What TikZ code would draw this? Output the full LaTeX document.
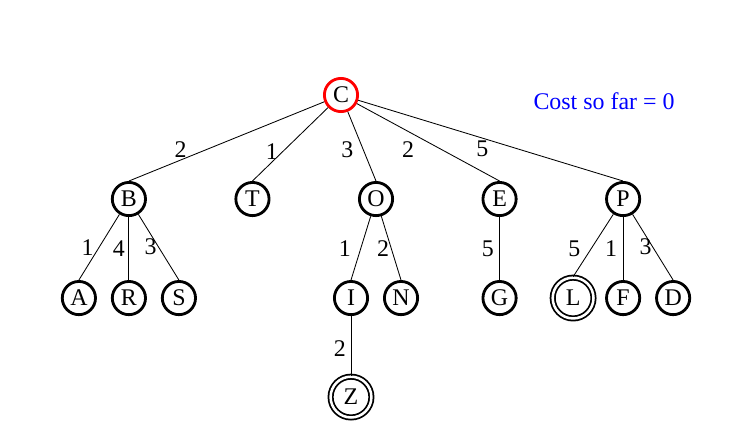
\documentclass[tikz,border=0pt]{standalone}
\usepackage{fontspec}
\setmainfont{Liberation Serif}
\usetikzlibrary{trees}

\begin{document}
\begin{tikzpicture}[x=0.025cm, y=-0.025cm,
        level 1/.style={grow via three points={one child at (0.875cm,-2.6cm) and two children at (-0.669cm,-2.6cm) and (2.419cm,-2.6cm)}},
        level 2/.style={grow via three points={one child at (0cm,-2.475cm) and two children at (-0.625cm,-2.475cm) and (0.625cm,-2.475cm)}},
        child anchor=north,
        edge from parent/.style={draw=black, line width=0.6pt},
        every node/.style={font=\fontsize{17}{20}\selectfont},
        plainNode/.style = {shape=circle, draw=black, line width=2pt, minimum size=0.83cm, inner sep=0pt},
        startNode/.style = {plainNode, draw=red}, % node being expanded
        goalNode/.style = {shape=circle, draw=black, double, line width=1.25pt, double distance=1.8pt, minimum size=1.02cm, inner sep=0pt}, % goal state
        costLabel/.style = {inner sep=0pt}
        ]
        \useasboundingbox (0,0) rectangle (750,446);
        \node[startNode] (C) at (341,95) {C}
        child {node[plainNode] (B) {B}
        child {node[plainNode] (A) {A} edge from parent node[costLabel, pos=0.5, xshift=-0.29cm] {1}}
        child {node[plainNode] (R) {R} edge from parent node[costLabel, pos=0.5, xshift=-0.25cm] {4}}
        child {node[plainNode] (S) {S} edge from parent node[costLabel, pos=0.5, xshift=-0.2cm] {3}}
        edge from parent node[costLabel, pos=0.6, xshift=-0.66cm] {2}}
        child {node[plainNode] (T) {T}
        edge from parent node[costLabel, pos=0.6, xshift=-0.27cm] {1}}
        child {node[plainNode] (O) {O}
        child {node[plainNode] (I) {I}
        child {node[goalNode] (Z) {Z} edge from parent node[costLabel, pos=0.55, xshift=-0.28cm] {2}}
        edge from parent node[costLabel, pos=0.5, xshift=-0.4cm] {1}}
        child {node[plainNode] (N) {N} edge from parent node[costLabel, pos=0.5, xshift=-0.2cm] {2}}
        edge from parent node[costLabel, pos=0.55, xshift=-0.4cm] {3}}
        child {node[plainNode] (E) {E}
        child {node[plainNode] (G) {G} edge from parent node[costLabel, pos=0.5, xshift=-0.29cm] {5}}
        edge from parent node[costLabel, pos=0.6, xshift=-0.86cm] {2}}
        child {node[plainNode] (P) {P}
        child {node[goalNode] (L) {L} edge from parent node[costLabel, pos=0.55, xshift=-0.42cm] {5}}
        child {node[plainNode] (F) {F} edge from parent node[costLabel, pos=0.5, xshift=-0.3cm] {1}}
        child {node[plainNode] (D) {D} edge from parent node[costLabel, pos=0.5, xshift=-0.18cm] {3}}
        edge from parent node[costLabel, pos=0.6, xshift=-0.87cm] {5}};
        \node[text=blue] (cost) at (604,101) {Cost so far = 0};
    \end{tikzpicture}
\end{document}
